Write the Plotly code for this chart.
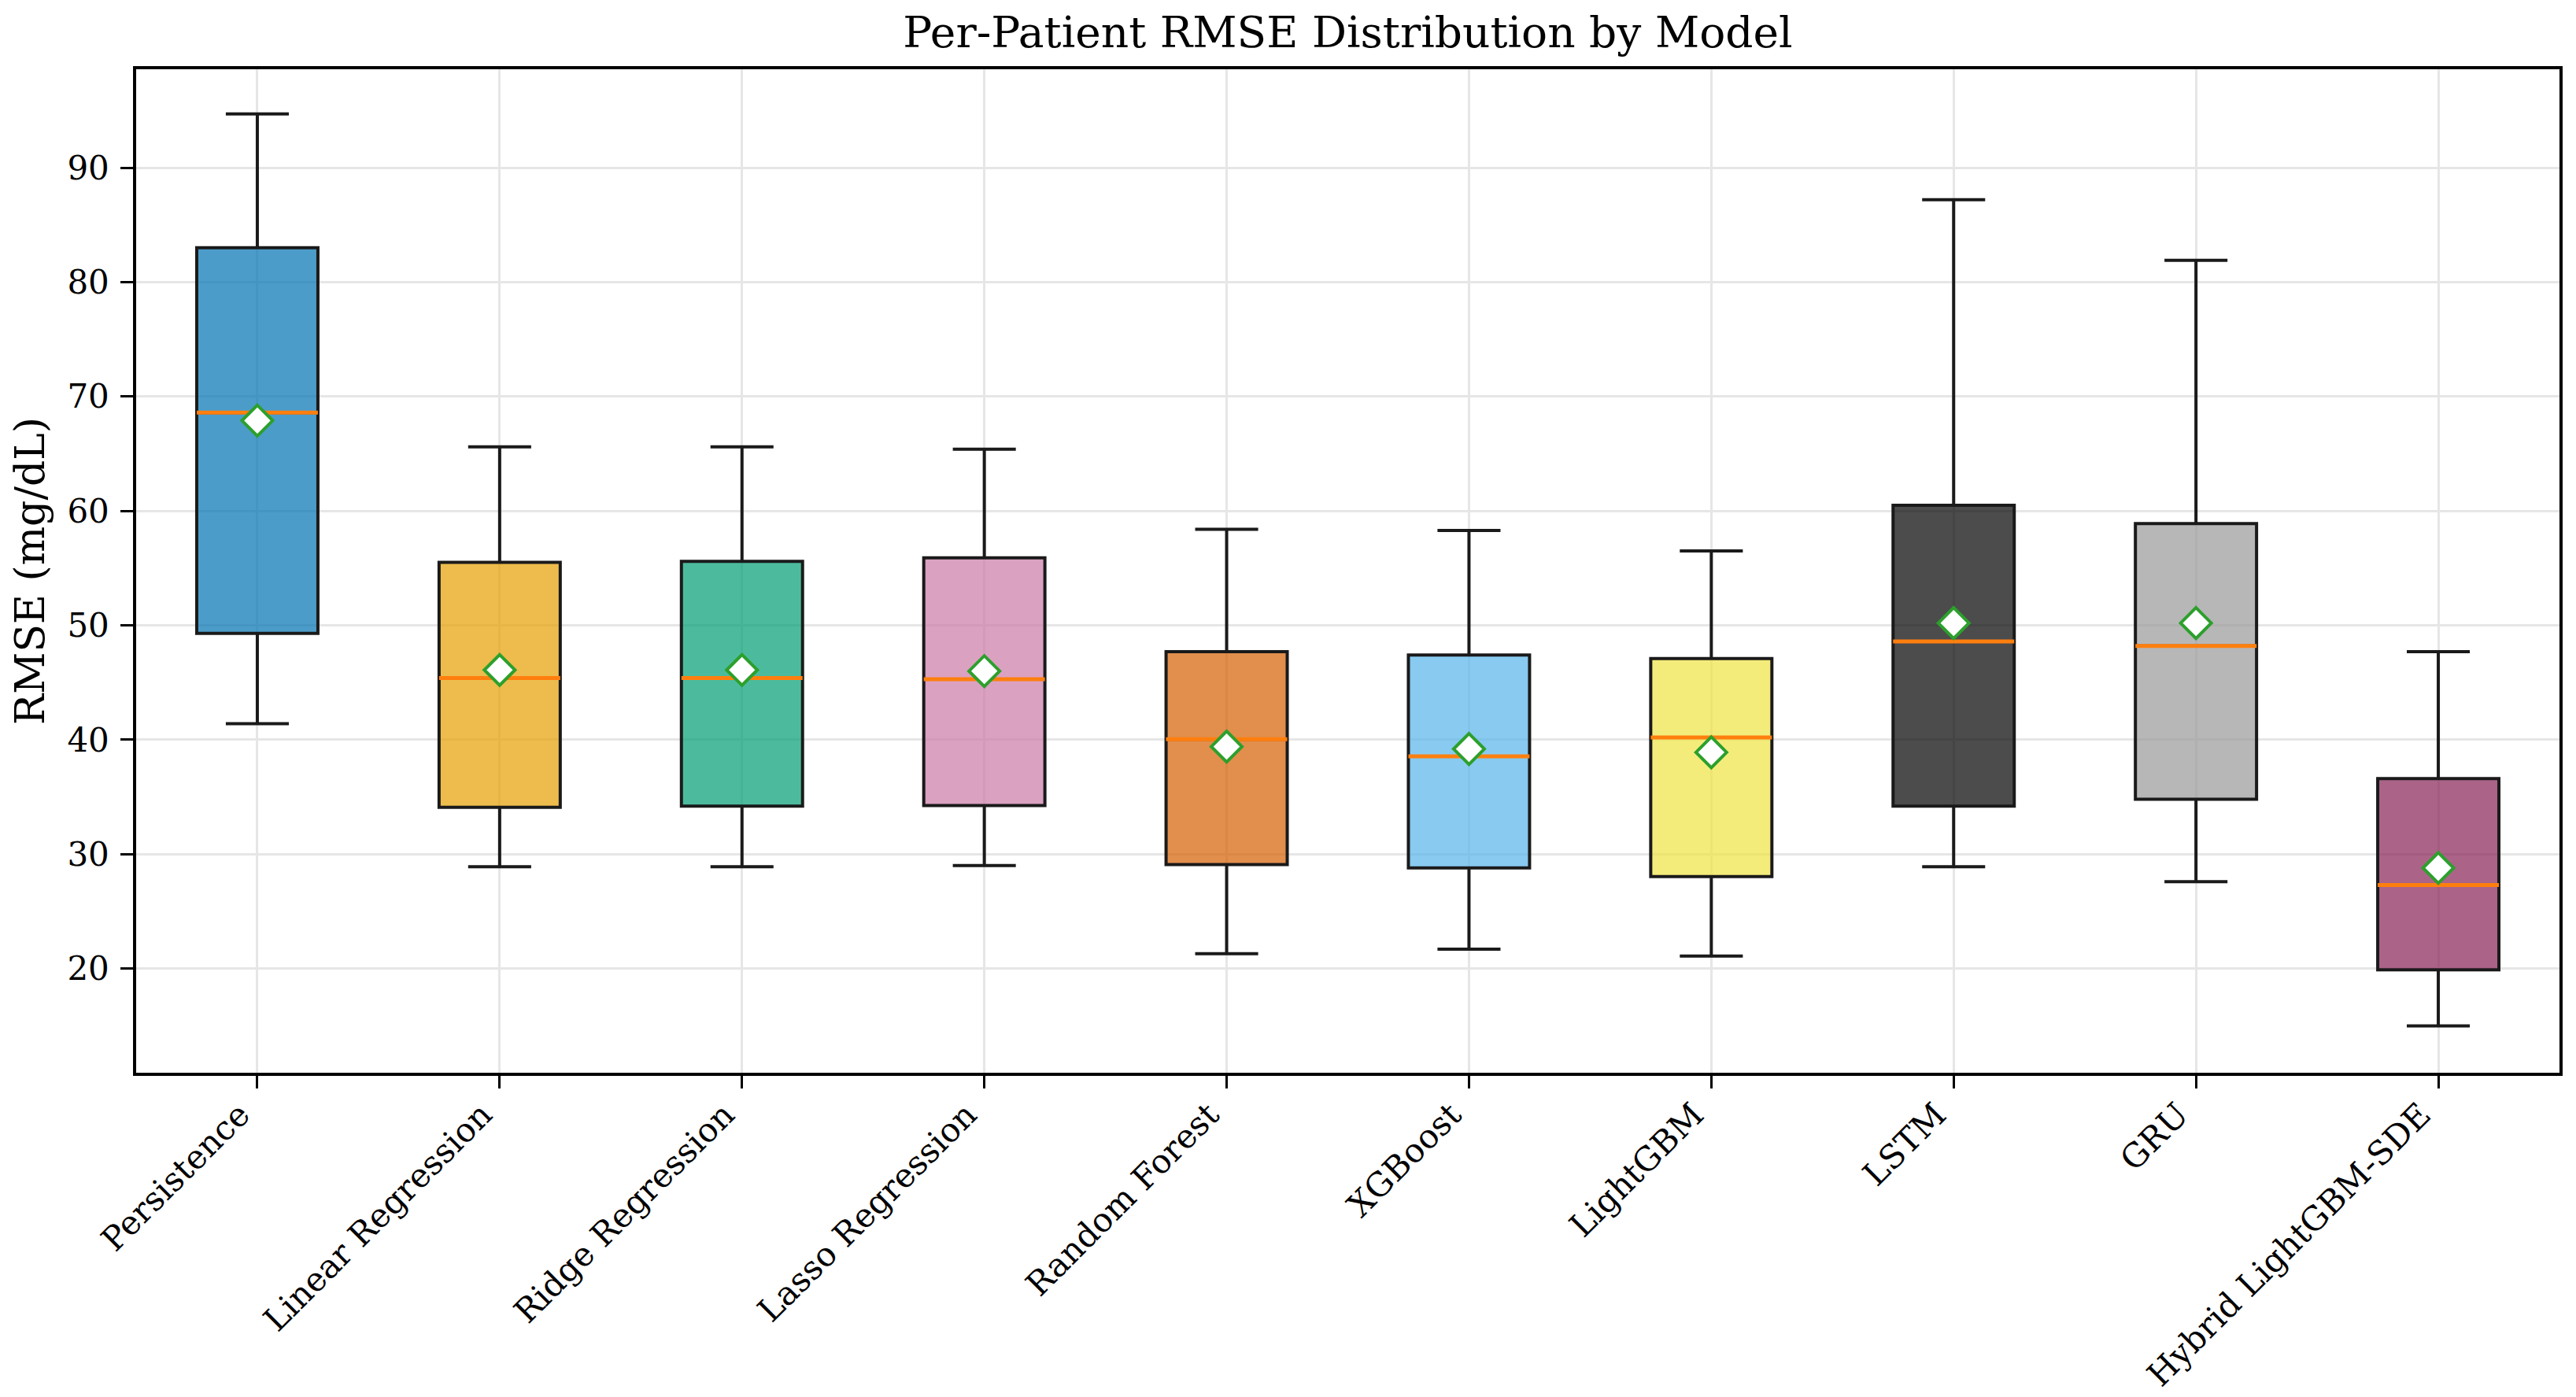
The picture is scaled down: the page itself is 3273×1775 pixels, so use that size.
import plotly.graph_objects as go

# per-model summary stats (mg/dL)
models = ["Persistence", "Linear Regression", "Ridge Regression", "Lasso Regression",
          "Random Forest", "XGBoost", "LightGBM", "LSTM", "GRU", "Hybrid LightGBM-SDE"]
whisker_low = [41.4, 28.9, 28.9, 29.0, 21.3, 21.7, 21.1, 28.9, 27.6, 15.0]
q1_vals = [49.3, 34.1, 34.2, 34.25, 29.1, 28.8, 28.05, 34.2, 34.8, 19.9]
medians = [68.6, 45.4, 45.4, 45.3, 40.05, 38.55, 40.2, 48.6, 48.2, 27.3]
q3_vals = [83.0, 55.5, 55.6, 55.9, 47.7, 47.4, 47.1, 60.5, 58.9, 36.6]
whisker_high = [94.7, 65.6, 65.6, 65.4, 58.4, 58.3, 56.5, 87.2, 81.9, 47.7]
means = [67.9, 46.1, 46.1, 46.0, 39.4, 39.2, 38.9, 50.2, 50.2, 28.8]
y_ticks = [20, 30, 40, 50, 60, 70, 80, 90]

colors = ["0,114,178", "230,159,0", "0,158,115", "204,121,167", "213,94,0",
          "86,180,233", "240,228,66", "0,0,0", "153,153,153", "136,34,85"]

FONT = "DejaVu Serif"
BOX_W = 0.5

positions = list(range(1, len(models) + 1))

fig = go.Figure()

for i, name in enumerate(models):
    fig.add_trace(go.Box(
        x=[positions[i]],
        q1=[q1_vals[i]],
        median=[medians[i]],
        q3=[q3_vals[i]],
        lowerfence=[whisker_low[i]],
        upperfence=[whisker_high[i]],
        name=name,
        width=BOX_W,
        whiskerwidth=0.52,
        boxpoints=False,
        fillcolor=f"rgba({colors[i]},0.7)",
        line=dict(color="#1a1a1a", width=4),
        hoverinfo="skip",
    ))

# orange median lines on top of each box
for i in range(len(models)):
    p = positions[i]
    fig.add_trace(go.Scatter(
        x=[p - BOX_W / 2, p + BOX_W / 2],
        y=[medians[i], medians[i]],
        mode="lines",
        line=dict(color="#ff7f0e", width=5),
        hoverinfo="skip",
    ))

# mean markers
fig.add_trace(go.Scatter(
    x=positions,
    y=means,
    mode="markers",
    marker=dict(symbol="diamond", size=30, color="white",
                line=dict(color="#2ca02c", width=4)),
    hoverinfo="skip",
))

# page body has an 8px margin, so the figure is shifted by 8px in the window
fig.update_layout(
    width=3257,
    height=1767,
    plot_bgcolor="white",
    paper_bgcolor="white",
    showlegend=False,
    font=dict(family=FONT, color="black", size=42),
    margin=dict(l=165, r=13, t=80, b=412),
    title=dict(
        text="Per-Patient RMSE Distribution by Model",
        font=dict(family=FONT, size=55, color="black"),
        x=0.5, xref="paper", xanchor="center",
        y=1 - 33 / 1767, yref="container", yanchor="middle",
    ),
)

fig.update_xaxes(
    range=[0.5, len(models) + 0.5],
    tickmode="array",
    tickvals=positions,
    ticktext=models,
    tickangle=-45,
    tickfont=dict(family=FONT, size=42, color="black"),
    ticks="outside", ticklen=16, tickwidth=3, tickcolor="black",
    ticklabelstandoff=-8,
    ticklabelshift=-22,
    automargin=False,
    showline=True, linecolor="black", linewidth=3.5, mirror=True,
    showgrid=True, gridcolor="#e6e6e6", gridwidth=2.5,
    zeroline=False,
)

fig.update_yaxes(
    range=[10.9, 98.6],
    tickmode="array",
    tickvals=y_ticks,
    tickfont=dict(family=FONT, size=42, color="black"),
    ticks="outside", ticklen=16, tickwidth=3, tickcolor="black",
    ticklabelstandoff=6,
    automargin=False,
    showline=True, linecolor="black", linewidth=3.5, mirror=True,
    showgrid=True, gridcolor="#e6e6e6", gridwidth=2.5,
    zeroline=False,
    title=dict(text="RMSE (mg/dL)", font=dict(family=FONT, size=52, color="black"),
               standoff=16),
)

fig.write_html("out.html")
